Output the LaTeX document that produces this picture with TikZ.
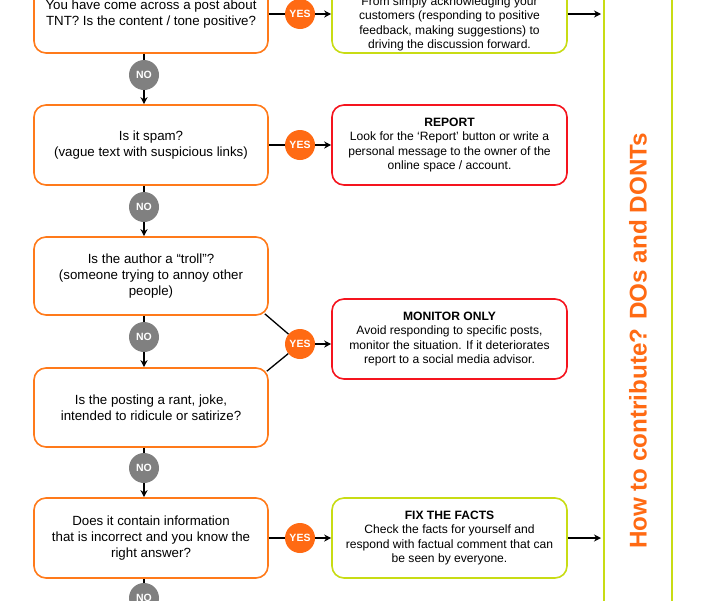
\documentclass[tikz,border=0pt]{standalone}
\usepackage{fontspec}
\setmainfont{Liberation Sans}
\usetikzlibrary{arrows.meta,calc}
\definecolor{qorange}{HTML}{FF7A1A}
\definecolor{yesorange}{HTML}{FF6A13}
\definecolor{nogray}{HTML}{808080}
\definecolor{actred}{HTML}{F5141E}
\definecolor{actgreen}{HTML}{C8DC14}
\definecolor{titleorange}{HTML}{FF6A13}
\tikzset{
  qbox/.style={draw=qorange, line width=1.6pt, rounded corners=12pt, fill=white,
    minimum width=234pt, minimum height=80pt, align=center,
    font=\fontsize{13.3}{16}\selectfont, inner sep=2pt},
  abox/.style={draw=#1, line width=1.6pt, rounded corners=12pt, fill=white,
    minimum width=235pt, minimum height=80pt, align=center,
    font=\fontsize{12.1}{14.4}\selectfont, inner sep=2pt},
  atext/.style={align=center, font=\fontsize{12.1}{14.4}\selectfont, inner sep=0pt},
  yesc/.style={circle, fill=yesorange, minimum size=30pt, inner sep=0pt,
    text=white, font=\fontsize{10.5}{11}\selectfont\bfseries},
  noc/.style={circle, fill=nogray, minimum size=30pt, inner sep=0pt,
    text=white, font=\fontsize{10.5}{11}\selectfont\bfseries},
  conn/.style={line width=1.3pt, black},
  arr/.style={line width=1.3pt, black, -{Stealth[length=7pt,width=7pt]}},
  panel/.style={draw=actgreen, line width=1.2pt}
}
\begin{document}
\begin{tikzpicture}[x=1pt,y=-1pt]
\useasboundingbox (0,0) rectangle (714,600);
\clip (0,0) rectangle (714,600);
\fill[white] (0,0) rectangle (714,600);

% questions
\node[qbox, minimum height=78pt] (q1) at (151,14) {You have come across a post about\\TNT? Is the content / tone positive?};
\node[qbox] (q2) at (151,145) {Is it spam?\\(vague text with suspicious links)};
\node[qbox, minimum height=78pt] (q3) at (151,276) {Is the author a “troll”?\\(someone trying to annoy other\\people)};
\node[qbox, minimum height=79pt] (q4) at (151,407.5) {Is the posting a rant, joke,\\intended to ridicule or satirize?};
\node[qbox] (q5) at (151,538) {Does it contain information\\that is incorrect and you know the\\right answer?};

% actions
\node[abox=actgreen, minimum height=78pt] (a1) at (449.5,14) {};
\node[atext] (a1t) at (449.5,24) {From simply acknowledging your\\customers (responding to positive\\feedback, making suggestions) to\\driving the discussion forward.};
\node[abox=actred] (a2) at (449.5,145) {\textbf{REPORT}\\Look for the ‘Report’ button or write a\\personal message to the owner of the\\online space / account.};
\node[abox=actred] (a3) at (449.5,339) {\textbf{MONITOR ONLY}\\Avoid responding to specific posts,\\monitor the situation. If it deteriorates\\report to a social media advisor.};
\node[abox=actgreen] (a4) at (449.5,538) {\textbf{FIX THE FACTS}\\Check the facts for yourself and\\respond with factual comment that can\\be seen by everyone.};

% circles
\node[noc] (n1) at (144,75) {NO};
\node[noc] (n2) at (144,207) {NO};
\node[noc] (n3) at (144,337) {NO};
\node[noc] (n4) at (144,468) {NO};
\node[noc] (n5) at (144,598) {NO};
\node[yesc] (y1) at (300,14) {YES};
\node[yesc] (y2) at (300,145) {YES};
\node[yesc] (y3) at (300,344) {YES};
\node[yesc] (y5) at (300,538) {YES};

% NO connectors
\draw[conn] (n1 |- q1.south) -- (n1);
\draw[arr] (n1) -- (n1 |- q2.north);
\draw[conn] (n2 |- q2.south) -- (n2);
\draw[arr] (n2) -- (n2 |- q3.north);
\draw[conn] (n3 |- q3.south) -- (n3);
\draw[arr] (n3) -- (n3 |- q4.north);
\draw[conn] (n4 |- q4.south) -- (n4);
\draw[arr] (n4) -- (n4 |- q5.north);
\draw[conn] (n5 |- q5.south) -- (n5);

% YES connectors
\draw[conn] (q1.east |- y1) -- (y1);
\draw[arr] (y1) -- (y1 -| a1.west);
\draw[conn] (q2.east) -- (y2);
\draw[arr] (y2) -- (a2.west);
\draw[conn] ($(q3.south east)+(-4,-2)$) -- (y3);
\draw[conn] ($(q4.north east)+(-2,4)$) -- (y3);
\draw[arr] (y3) -- (y3 -| a3.west);
\draw[conn] (q5.east) -- (y5);
\draw[arr] (y5) -- (a4.west);

% side panel
\coordinate (p1) at (601,14);
\coordinate (p2) at (601,538);
\draw[arr] (a1.east) -- (p1);
\draw[arr] (a4.east) -- (p2);
\draw[panel] (604,-5) rectangle (672,605);
\node[rotate=90, text=titleorange, font=\fontsize{24.2}{28}\selectfont\bfseries] (title) at (638,341) {How to contribute? DOs and DONTs};
\end{tikzpicture}
\end{document}
